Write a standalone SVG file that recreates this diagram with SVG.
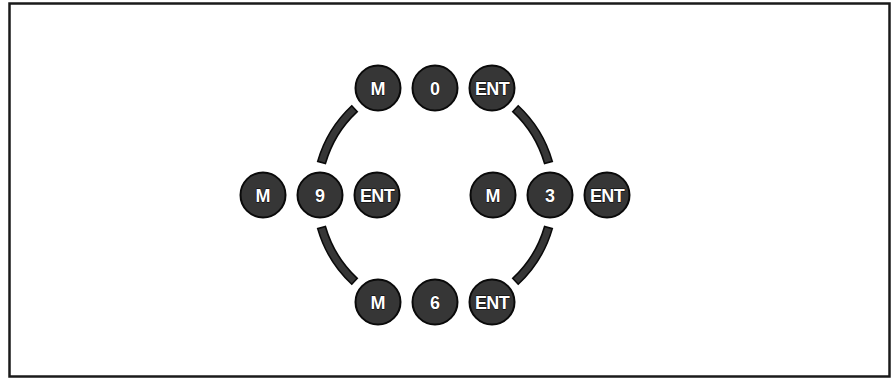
<svg xmlns="http://www.w3.org/2000/svg" width="892" height="379" viewBox="0 0 892 379">
  <style>
    .frame { fill: #ffffff; stroke: #1a1a1a; stroke-width: 2.5; }
    .key { fill: #363636; stroke: #0a0a0a; stroke-width: 2; }
    .lbl { fill: #ffffff; stroke: #000000; stroke-width: 0.8; paint-order: stroke;
           font-family: "Liberation Sans", Arial, sans-serif; font-weight: bold;
           font-size: 18px; text-anchor: middle; dominant-baseline: central; }
    .lbl.ent { font-size: 18px; letter-spacing: -0.6px; }
    .arc { fill: #363636; stroke: #0a0a0a; stroke-width: 1.6; stroke-linejoin: miter; }
  </style>

  <rect class="frame" x="9.5" y="3.5" width="880" height="373"/>

  <!-- curved bands joining the four digit keys -->
  <g id="connectors" transform="translate(-1,-2)">
    <path class="arc" d="M 519.20 107.77 A 122 122 0 0 1 553.28 163.38 L 545.59 165.58 A 114 114 0 0 0 513.75 113.62 Z"/>
    <path class="arc" d="M 352.80 107.77 A 122 122 0 0 0 318.72 163.38 L 326.41 165.58 A 114 114 0 0 1 358.25 113.62 Z"/>
    <path class="arc" d="M 519.20 286.23 A 122 122 0 0 0 553.28 230.62 L 545.59 228.42 A 114 114 0 0 1 513.75 280.38 Z"/>
    <path class="arc" d="M 352.80 286.23 A 122 122 0 0 1 318.72 230.62 L 326.41 228.42 A 114 114 0 0 0 358.25 280.38 Z"/>
  </g>

  <!-- top row -->
  <g id="top-m"><circle class="key" cx="378" cy="88" r="22.5"/><text class="lbl" x="378" y="89">M</text></g>
  <g id="top-0"><circle class="key" cx="435" cy="88" r="22.5"/><text class="lbl" x="435" y="89">0</text></g>
  <g id="top-ent"><circle class="key" cx="492" cy="88" r="22.5"/><text class="lbl ent" x="492" y="89">ENT</text></g>

  <!-- left row -->
  <g id="left-m"><circle class="key" cx="263" cy="195" r="22.5"/><text class="lbl" x="263" y="196">M</text></g>
  <g id="left-9"><circle class="key" cx="320" cy="195" r="22.5"/><text class="lbl" x="320" y="196">9</text></g>
  <g id="left-ent"><circle class="key" cx="377" cy="195" r="22.5"/><text class="lbl ent" x="377" y="196">ENT</text></g>

  <!-- right row -->
  <g id="right-m"><circle class="key" cx="493" cy="195" r="22.5"/><text class="lbl" x="493" y="196">M</text></g>
  <g id="right-3"><circle class="key" cx="550" cy="195" r="22.5"/><text class="lbl" x="550" y="196">3</text></g>
  <g id="right-ent"><circle class="key" cx="607" cy="195" r="22.5"/><text class="lbl ent" x="607" y="196">ENT</text></g>

  <!-- bottom row -->
  <g id="bottom-m"><circle class="key" cx="378" cy="302" r="22.5"/><text class="lbl" x="378" y="303">M</text></g>
  <g id="bottom-6"><circle class="key" cx="435" cy="302" r="22.5"/><text class="lbl" x="435" y="303">6</text></g>
  <g id="bottom-ent"><circle class="key" cx="492" cy="302" r="22.5"/><text class="lbl ent" x="492" y="303">ENT</text></g>
</svg>
